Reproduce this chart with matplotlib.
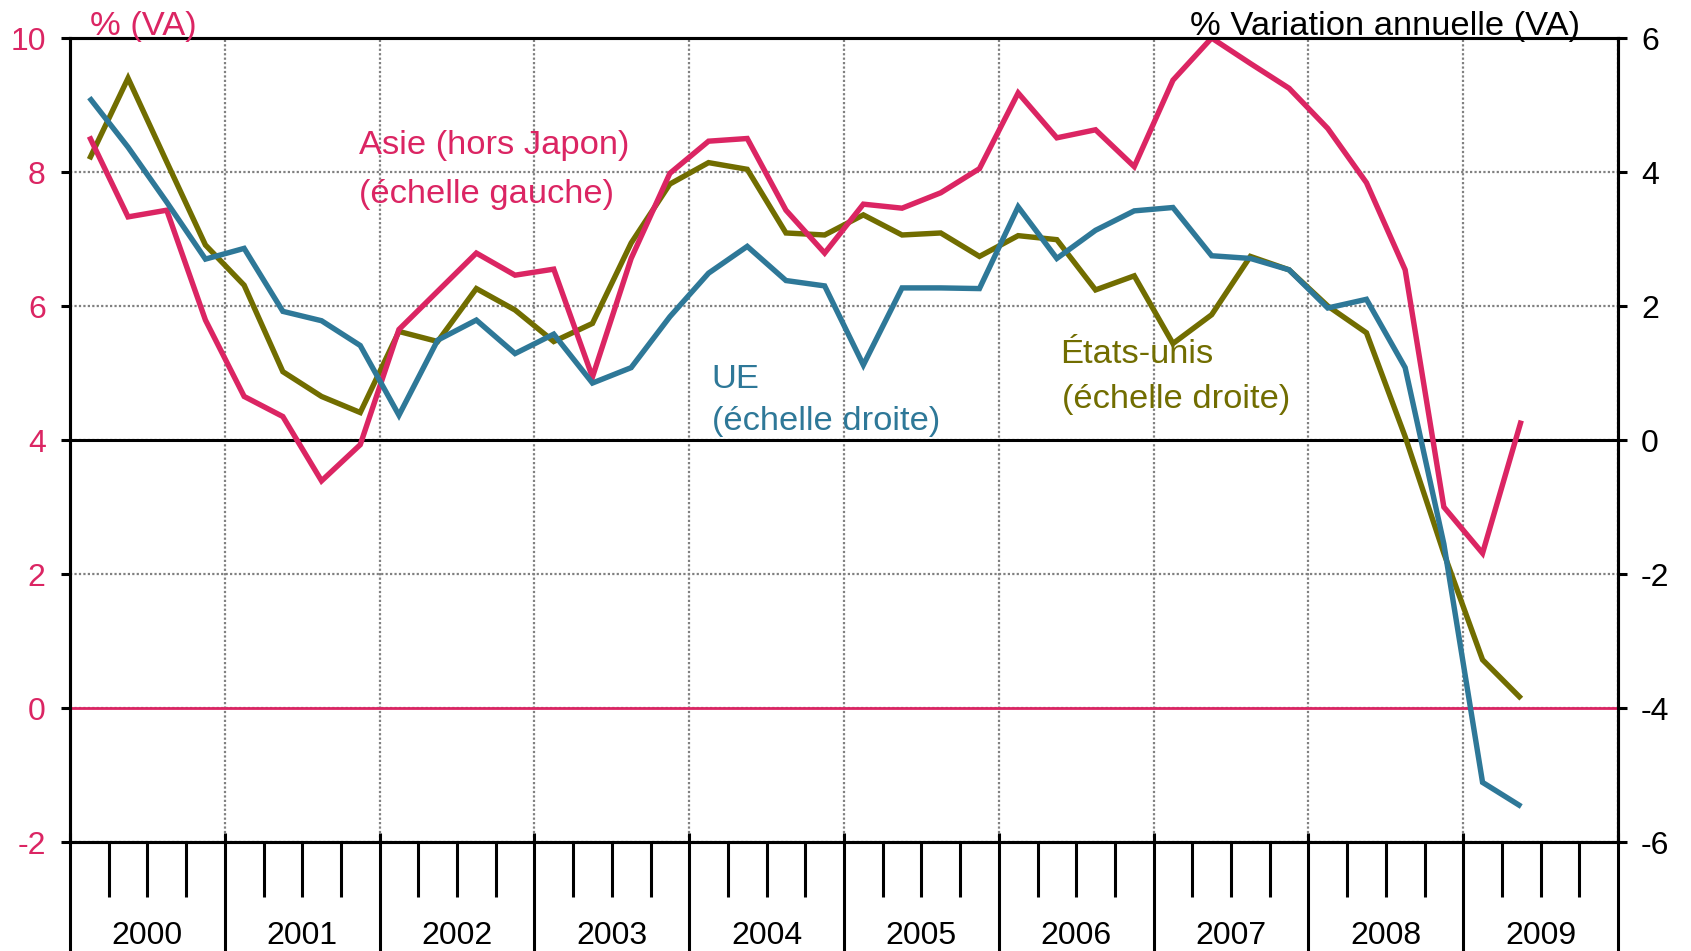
import matplotlib
matplotlib.use("Agg")
import matplotlib.pyplot as plt

plt.rcParams["font.family"] = ["Liberation Sans", "DejaVu Sans"]
plt.rcParams["axes.unicode_minus"] = False

## Data (quarterly, 2000 T1 -> 2009 T2, % annual change)
YEARS = list(range(2000, 2010))

# Asie (hors Japon), left scale
asie = [8.53, 7.33, 7.43, 5.79, 4.65, 4.35, 3.39, 3.93, 5.65, 6.22,
        6.79, 6.46, 6.55, 4.94, 6.71, 7.98, 8.46, 8.50, 7.43, 6.79,
        7.52, 7.46, 7.69, 8.05, 9.18, 8.51, 8.63, 8.08, 9.37, 10.0,
        9.62, 9.25, 8.65, 7.84, 6.54, 3.00, 2.31, 4.29]

# UE, right scale
ue = [5.11, 4.37, 3.55, 2.70, 2.86, 1.92, 1.78, 1.41, 0.37, 1.49,
      1.79, 1.29, 1.58, 0.85, 1.08, 1.84, 2.49, 2.89, 2.38, 2.30,
      1.12, 2.27, 2.27, 2.26, 3.48, 2.71, 3.13, 3.42, 3.47, 2.75,
      2.71, 2.54, 1.97, 2.10, 1.08, -1.55, -5.11, -5.47]

# Etats-unis, right scale
etats_unis = [4.19, 5.40, 4.15, 2.91, 2.31, 1.02, 0.65, 0.41, 1.62, 1.47,
              2.26, 1.94, 1.47, 1.74, 2.94, 3.82, 4.14, 4.04, 3.09, 3.06,
              3.36, 3.06, 3.09, 2.74, 3.05, 2.99, 2.24, 2.45, 1.44, 1.87,
              2.74, 2.54, 2.00, 1.60, 0.05, -1.69, -3.28, -3.86]

LEFT_TICKS = [-2, 0, 2, 4, 6, 8, 10]
RIGHT_TICKS = [-6, -4, -2, 0, 2, 4, 6]

# quarter centres
x = [YEARS[0] + (i + 0.5) / 4 for i in range(len(asie))]
year_edges = YEARS + [YEARS[-1] + 1]
quarter_edges = [y + q / 4 for y in YEARS for q in range(1, 4)]

## Style
PINK = "#db2563"
BLUE = "#2e7898"
OLIVE = "#716d00"
GRID = "#808080"
LW = 3.9
AXW = 2.2
FS = 23
TFS = 24.8

fig = plt.figure(figsize=(16.91, 9.51), dpi=100)
ax = fig.add_axes([70 / 1691, 109 / 951, 1548 / 1691, 804 / 951])
ax2 = ax.twinx()

ax.set_xlim(year_edges[0], year_edges[-1])
ax.set_ylim(LEFT_TICKS[0], LEFT_TICKS[-1])
ax2.set_ylim(RIGHT_TICKS[0], RIGHT_TICKS[-1])

for a in (ax, ax2):
    for s in a.spines.values():
        s.set_linewidth(AXW)
        s.set_color("black")

# y axes
ax.set_yticks(LEFT_TICKS)
ax.tick_params(axis="y", direction="out", length=6.5, width=AXW,
               labelsize=FS, labelcolor=PINK, pad=11)
ax2.set_yticks(RIGHT_TICKS)
ax2.tick_params(axis="y", direction="out", length=6.5, width=AXW,
                labelsize=FS, labelcolor="black", pad=10)

# x axis: year boundaries (long ticks) and quarters (short ticks)
ax.set_xticks(year_edges)
ax.set_xticks(quarter_edges, minor=True)
ax.tick_params(axis="x", which="major", direction="out", length=90,
               width=AXW, labelbottom=False)
ax.tick_params(axis="x", which="minor", direction="out", length=39.6,
               width=AXW)
ax.vlines(year_edges, 0, 9 / 804, transform=ax.get_xaxis_transform(),
          color="black", lw=AXW, clip_on=False)
for yr in YEARS:
    ax.text(yr + 0.5, -0.117, str(yr), transform=ax.get_xaxis_transform(),
            ha="center", va="center", fontsize=FS)

# grid
ax.set_axisbelow(True)
ax.grid(True, which="major", linestyle=(0, (1, 1)), linewidth=1.6, color=GRID)
ax.axhline(4, color="black", lw=AXW, zorder=1)
ax.axhline(0, color=PINK, lw=2.0, zorder=1)

# series
ax2.plot(x, etats_unis, color=OLIVE, lw=LW, solid_capstyle="butt",
         solid_joinstyle="miter")
ax2.plot(x, asie, color=PINK, lw=LW, solid_capstyle="butt",
         solid_joinstyle="miter", transform=ax.transData)
ax2.plot(x, ue, color=BLUE, lw=LW, solid_capstyle="butt",
         solid_joinstyle="miter")
ax2.set_ylim(RIGHT_TICKS[0], RIGHT_TICKS[-1])

# labels
ax.text(2001.87, 8.39, "Asie (hors Japon)", color=PINK, fontsize=TFS, va="center")
ax.text(2001.87, 7.66, "(échelle gauche)", color=PINK, fontsize=TFS, va="center")
ax2.text(2004.145, 0.90, "UE", color=BLUE, fontsize=TFS, va="center")
ax2.text(2004.145, 0.27, "(échelle droite)", color=BLUE, fontsize=TFS, va="center")
ax2.text(2006.395, 1.27, "États-unis", color=OLIVE, fontsize=TFS, va="center")
ax2.text(2006.41, 0.61, "(échelle droite)", color=OLIVE, fontsize=TFS, va="center")

fig.text(89.5 / 1691, 1 - 35 / 951, "% (VA)", color=PINK, fontsize=TFS,
         va="baseline")
fig.text(1580 / 1691, 1 - 35 / 951, "% Variation annuelle (VA)", color="black",
         fontsize=TFS, va="baseline", ha="right")

fig.savefig("out.png", dpi=100)
